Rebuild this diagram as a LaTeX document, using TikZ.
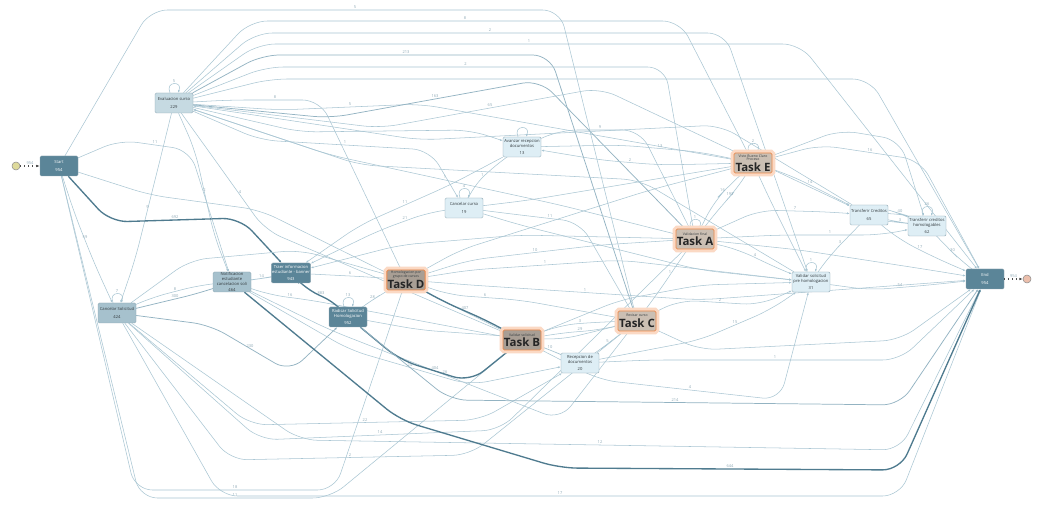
\documentclass[tikz,border=0pt]{standalone}
\usepackage{fontspec}
\setsansfont{Open Sans}
\usetikzlibrary{arrows.meta,backgrounds}
\definecolor{pmDark}{HTML}{5B8598}
\definecolor{pmMid}{HTML}{A6C1CD}
\definecolor{pmLight}{HTML}{C6DAE2}
\definecolor{pmPale}{HTML}{DEEEF5}
\definecolor{pmFrame}{HTML}{8DA6B2}
\definecolor{pmEdge}{HTML}{A9C6D3}
\definecolor{pmEdgeMid}{HTML}{93B3C2}
\definecolor{pmEdgeDark}{HTML}{4F7B8F}
\definecolor{pmLabel}{HTML}{8EA9B6}
\definecolor{pmTaskDark}{HTML}{A89E94}
\definecolor{pmTaskLight}{HTML}{CBBFB3}
\definecolor{pmGlow}{HTML}{FBD9C4}
\definecolor{pmOrange}{HTML}{EB8A4C}
\definecolor{pmInk}{HTML}{333A3E}
\tikzset{
  act/.style={rectangle,draw=pmFrame,line width=.35pt,rounded corners=1pt,
    minimum width=28.5pt,minimum height=15pt,inner sep=.5pt,align=center,
    text=pmInk,font=\sffamily\fontsize{3.1}{3.5}\selectfont},
  dark/.style={act,fill=pmDark,text=white},
  mid/.style={act,fill=pmMid},
  light/.style={act,fill=pmLight},
  pale/.style={act,fill=pmPale},
  task/.style={act,draw=pmOrange,line width=.6pt,font=\sffamily\fontsize{2.6}{2.9}\selectfont,
    preaction={draw=pmGlow,line width=5pt,rounded corners=2pt}},
  taskdark/.style={task,fill=pmTaskDark},
  tasklight/.style={task,fill=pmTaskLight},
  flow/.style={draw=pmEdge,line width=.4pt,rounded corners=13pt,-{Latex[length=2pt,width=1.6pt]}},
  midflow/.style={flow,draw=pmEdgeMid,line width=.55pt},
  heavy/.style={flow,draw=pmEdgeDark,line width=1pt},
  feed/.style={draw=black!70,line width=.9pt,dotted,-{Latex[length=2.5pt,width=2pt]}},
  lbl/.style={font=\sffamily\fontsize{3}{3}\selectfont,text=pmLabel,anchor=south,inner sep=.6pt},
  ini/.style={circle,draw=black!45,fill=#1,minimum size=6pt,inner sep=0pt},
}
\newcommand\tasktext[2]{#1\\[.3pt]\fontsize{8.6}{9}\selectfont\bfseries\color{black!85} #2}
\begin{document}
\begin{tikzpicture}[x=.75pt,y=-.75pt]
  \useasboundingbox (0,0) rectangle (1040,506);
  % activities
  \node[ini=olive!30] (src) at (16,166) {};
  \node[dark] (Start) at (59,166) {Start\\[2pt]954};
  \node[light] (Eval) at (174,103) {Evaluacion curso\\[2pt]229};
  \node[mid] (CancS) at (117,313) {Cancelar Solicitud\\[2pt]424};
  \node[mid] (Notif) at (232,282) {Notificacion\\estudiante\\cancelacion soli\\[1pt]464};
  \node[dark] (Traer) at (291,273) {Traer informacion\\estudiante - banner\\[1.5pt]943};
  \node[dark] (Radic) at (348,317) {Radicar Solicitud\\Homologacion\\[1.5pt]952};
  \node[taskdark] (TaskD) at (406,280) {\tasktext{Homologacion por\\grupo de cursos}{Task D}};
  \node[pale] (CancC) at (464,208) {Cancelar curso\\[2pt]19};
  \node[pale] (Avanz) at (522,147) {Avanzar recepcion\\documentos\\[1.5pt]13};
  \node[taskdark] (TaskB) at (522,340) {\tasktext{Validar solicitud}{Task B}};
  \node[pale] (Recep) at (580,363) {Recepcion de\\documentos\\[1.5pt]20};
  \node[tasklight] (TaskC) at (637,321) {\tasktext{Revisar curso}{Task C}};
  \node[tasklight] (TaskA) at (695,239) {\tasktext{Validacion final}{Task A}};
  \node[tasklight] (TaskE) at (753,163) {\tasktext{Visto Bueno Claro\\Proceso}{Task E}};
  \node[pale] (ValSol) at (811,282) {Validar solicitud\\pre homologacion\\[1.5pt]31};
  \node[pale] (TrCred) at (869,215) {Transferir Creditos\\[2pt]65};
  \node[pale] (TrHom) at (927,226) {Transferir creditos\\homologables\\[1.5pt]62};
  \node[dark] (End) at (985,279) {End\\[2pt]954};
  \node[ini=red!25!brown!40] (sink) at (1027,279) {};
  \draw[feed] (src) -- node[lbl]{954} (Start);
  \draw[feed] (End) -- node[lbl]{954} (sink);
  % transitions
  \begin{scope}[on background layer]
  \fill[white] (0,0) rectangle (1040,506);
  \foreach \from/\via/\upto/\to/\cnt/\kind in {
    Start/{(150,10)}/{(560,10)}/TaskC/5/flow,
    Eval/{(250,21)}/{(680,21)}/TaskE/8/flow,
    Eval/{(255,33)}/{(725,33)}/ValSol/2/flow,
    Eval/{(258,44)}/{(800,44)}/End/1/flow,
    Eval/{(262,55)}/{(550,55)}/TaskC/213/midflow,
    Eval/{(266,67)}/{(665,67)}/TaskA/2/flow,
    Eval/{(270,79)}/{(870,79)}/End//flow,
    Eval/{(230,100)}/{(320,100)}/TaskD/8/flow,
    Eval/{(280,110)}/{(420,104)}/TaskE/5/flow,
    Eval/{(330,118)}/{(540,80)}/TaskA/163/midflow,
    Eval/{(380,128)}/{(600,88)}/TrCred/65/flow,
    Eval/{(260,140)}/{(430,150)}/CancC/1/flow,
    Eval/{(300,132)}/{(470,130)}/Avanz//flow,
    Eval/{(215,160)}/{(265,230)}/TaskB/4/flow,
    Eval/{(195,150)}/{(214,235)}/Notif/2/flow,
    Eval/{(160,160)}/{(135,260)}/CancS/9/flow,
    TaskA/{(560,205)}/{(330,155)}/Eval/1/flow,
    TrCred/{(720,125)}/{(420,140)}/Eval//flow,
    ValSol/{(640,180)}/{(360,165)}/Eval//flow,
    Start/{(110,222)}/{(240,218)}/Traer/692/heavy,
    Start/{(75,215)}/{(95,265)}/CancS/59/flow,
    Start/{(120,140)}/{(190,150)}/Notif/11/flow,
    Start/{(150,195)}/{(260,210)}/TaskB//flow,
    Start/{(135,490)}/{(335,490)}/TaskD/18/flow,
    Start/{(140,498)}/{(330,498)}/TaskB/11/flow,
    CancS/{(150,305)}/{(200,293)}/Notif/300/midflow,
    CancS/{(150,298)}/{(200,285)}/Notif/8/flow,
    CancS/{(210,325)}/{(290,372)}/Radic/230/midflow,
    CancS/{(190,260)}/{(300,250)}/TaskD//flow,
    CancS/{(300,440)}/{(900,450)}/End/12/flow,
    CancS/{(220,496)}/{(900,496)}/End/17/flow,
    CancS/{(230,460)}/{(470,455)}/TaskC/2/flow,
    CancS/{(250,425)}/{(480,420)}/Recep/22/flow,
    CancS/{(260,440)}/{(500,430)}/TaskA/14/flow,
    Notif/{(258,279)}/{(265,278)}/Traer/14/flow,
    Notif/{(350,350)}/{(470,385)}/Recep/24/flow,
    Notif/{(330,330)}/{(560,420)}/TaskC/26/flow,
    Notif/{(270,295)}/{(310,300)}/TaskB/16/flow,
    Traer/{(330,275)}/{(370,277)}/TaskD/6/flow,
    Traer/{(302,287)}/{(340,305)}/Radic/883/heavy,
    Avanz/{(450,185)}/{(360,225)}/Traer/11/flow,
    CancC/{(430,212)}/{(380,230)}/Traer/21/flow,
    TaskA/{(520,235)}/{(400,245)}/Traer//flow,
    Radic/{(365,305)}/{(380,295)}/TaskD/28/flow,
    Radic/{(400,360)}/{(470,382)}/TaskB/404/heavy,
    Radic/{(420,330)}/{(560,340)}/TaskC//flow,
    Radic/{(450,400)}/{(900,405)}/End/214/midflow,
    TaskD/{(440,300)}/{(490,322)}/TaskB/407/heavy,
    TaskD/{(450,295)}/{(520,300)}/TaskC/6/flow,
    TaskD/{(470,260)}/{(600,245)}/TaskA/10/flow,
    TaskD/{(470,270)}/{(620,260)}/ValSol/1/flow,
    TaskD/{(460,250)}/{(650,190)}/TaskE//flow,
    TaskD/{(470,285)}/{(700,300)}/End/1/flow,
    CancC/{(520,215)}/{(580,222)}/TaskC/11/flow,
    CancC/{(470,190)}/{(495,165)}/Avanz/1/flow,
    CancC/{(530,200)}/{(650,180)}/TaskE//flow,
    CancC/{(520,225)}/{(700,270)}/ValSol//flow,
    TaskE/{(660,165)}/{(600,160)}/Avanz/2/flow,
    Avanz/{(560,130)}/{(640,130)}/TaskA/9/flow,
    Avanz/{(620,145)}/{(700,152)}/TaskE/13/flow,
    TaskB/{(560,325)}/{(600,322)}/TaskC/3/flow,
    TaskB/{(560,333)}/{(600,330)}/TaskC/29/flow,
    TaskB/{(545,348)}/{(555,352)}/Recep/10/flow,
    Recep/{(600,350)}/{(615,338)}/TaskC/5/flow,
    TaskB/{(620,300)}/{(700,285)}/ValSol//flow,
    Recep/{(700,340)}/{(770,310)}/ValSol/15/flow,
    Recep/{(650,360)}/{(900,360)}/End/1/flow,
    TaskB/{(600,380)}/{(780,400)}/ValSol/4/flow,
    TaskC/{(680,300)}/{(760,305)}/ValSol/2/flow,
    TaskC/{(660,290)}/{(680,260)}/TaskA/1/flow,
    TaskC/{(700,350)}/{(900,340)}/End//flow,
    TaskA/{(715,200)}/{(730,185)}/TaskE/16/flow,
    TaskA/{(722,205)}/{(738,188)}/TaskE/193/flow,
    TaskA/{(740,250)}/{(770,265)}/ValSol/4/flow,
    TaskA/{(760,210)}/{(830,212)}/TrCred/7/flow,
    TaskA/{(780,235)}/{(880,235)}/TrHom/1/flow,
    TaskA/{(800,250)}/{(930,270)}/End//flow,
    TaskE/{(790,175)}/{(830,195)}/TrCred/14/flow,
    TaskE/{(770,200)}/{(795,250)}/ValSol//flow,
    TaskE/{(820,145)}/{(920,160)}/End/16/flow,
    TaskE/{(840,130)}/{(900,140)}/TrHom//flow,
    ValSol/{(830,255)}/{(850,235)}/TrCred/3/flow,
    ValSol/{(870,290)}/{(930,285)}/End/54/flow,
    TrCred/{(895,212)}/{(905,215)}/TrHom/40/flow,
    TrHom/{(905,223)}/{(895,222)}/TrCred/3/flow,
    TrCred/{(900,240)}/{(940,260)}/End/17/flow,
    TrHom/{(945,245)}/{(960,260)}/End/30/flow} {
    \draw[\kind] (\from) -- \via -- node[lbl]{\cnt} \upto -- (\to);
  }
  \draw[heavy] (Notif) -- (400,420) -- (560,468) -- node[lbl]{644} (900,470) -- (End);
  % self loops
  \foreach \n/\cnt in {Eval/5,CancS/7,Radic/13,CancC/4,Avanz/,TaskA/1,TaskE/2,ValSol/1,TrHom/26} {
    \draw[flow,rounded corners=0pt] ([xshift=-3pt]\n.north) .. controls +(-4pt,9pt) and +(4pt,9pt)
      .. ([xshift=3pt]\n.north) node[lbl,pos=.5]{\cnt};
  }
  \end{scope}
\end{tikzpicture}
\end{document}
